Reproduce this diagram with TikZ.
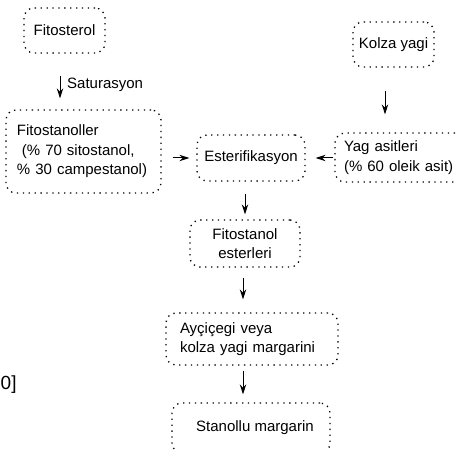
\documentclass[tikz,border=0pt]{standalone}
\usepackage{fontspec}
\setmainfont{Liberation Sans}
\usetikzlibrary{arrows.meta}
\begin{document}
\begin{tikzpicture}[x=1bp,y=-1bp,
  box/.style={draw, line width=1.3bp, dash pattern=on 1.3bp off 4.6bp,
    rounded corners=10bp, inner sep=0pt,
    font=\fontsize{15bp}{19.5bp}\selectfont},
  arr/.style={line width=1bp, -{Stealth[length=10bp,width=6.5bp]}},
  lbl/.style={font=\fontsize{15bp}{17bp}\selectfont, inner sep=0pt}]
\useasboundingbox (0,0) rectangle (457,450);
\clip (0,0) rectangle (457,450);
% boxes
\node[box, minimum width=81bp, minimum height=45bp] (fito) at (64.5,30.5) {Fitosterol};
\node[box, minimum width=151bp, minimum height=83bp, text width=133bp, align=left, inner xsep=11bp] (fitostan) at (83.5,151.5)
  {Fitostanoller\\\ (\% 70 sitostanol,\\\% 30 campestanol)};
\node[box, minimum width=108bp, minimum height=46bp] (ester) at (251,158) {Esterifikasyon};
\node[box, minimum width=81bp, minimum height=45bp] (kolza) at (393.5,44.5) {Kolza yagi};
\node[box, minimum width=124bp, minimum height=49bp, text width=112bp, align=left, inner xsep=9bp] (yag) at (400,157.5)
  {Yag asitleri\\(\% 60 oleik asit)};
\node[box, minimum width=110bp, minimum height=47bp, align=center] (fe) at (245,243.5) {Fitostanol\\esterleri};
\node[box, minimum width=158bp, minimum height=52bp, text width=144bp, align=left, inner xsep=14bp] (ay) at (252,339)
  {Ayçiçegi veya\\kolza yagi margarini};
\node[box, minimum width=158bp, minimum height=50bp] (stan) at (251,428) {\hspace{8bp}Stanollu margarin};
% connectors
\draw[arr, shorten <=22bp, shorten >=11bp] ([xshift=-4.5bp]fito.south) -- ([xshift=-4.5bp]fito.south |- fitostan.north);
\node[lbl, anchor=west] (sat) at (67,85) {Saturasyon};
\draw[arr, shorten <=11bp, shorten >=7bp] (fitostan.east |- ester.west) -- (ester.west);
\draw[arr, shorten <=1bp, shorten >=10bp] (yag.west |- ester.east) -- (ester.east);
\draw[arr, shorten <=23bp, shorten >=18bp] ([xshift=-8.5bp]kolza.south) -- ([xshift=-8.5bp]kolza.south |- yag.north);
\draw[arr, shorten <=12bp, shorten >=5bp] ([xshift=-6bp]ester.south) -- ([xshift=-6bp]ester.south |- fe.north);
\draw[arr, shorten <=10bp, shorten >=13bp] ([xshift=-2bp]fe.south) -- ([xshift=-2bp]fe.south |- ay.north);
\draw[arr, shorten <=5bp, shorten >=8bp] ([xshift=-9bp]ay.south) -- ([xshift=-9bp]ay.south |- stan.north);
% fragment at the left edge
\node[font=\fontsize{19bp}{23bp}\selectfont, inner sep=0pt, anchor=west] (frag) at (0.5,385) {0]};
\end{tikzpicture}
\end{document}
